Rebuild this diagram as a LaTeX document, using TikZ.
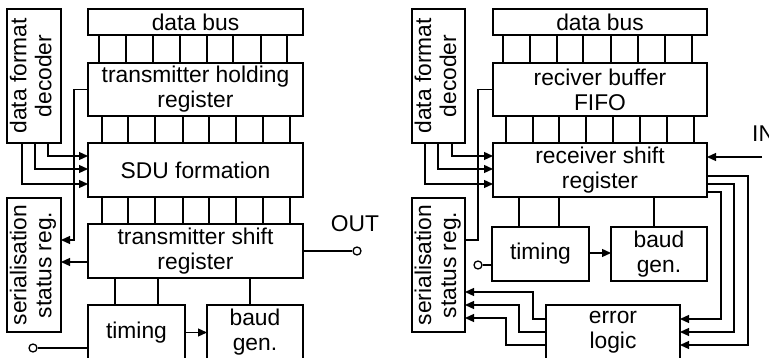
\documentclass[tikz,border=0pt]{standalone}
\usepackage{fontspec}
\setmainfont{Liberation Sans}
\usetikzlibrary{arrows.meta,calc}
\newcommand\vtext[1]{\rotatebox{90}{\begin{tabular}{@{}c@{}}#1\end{tabular}}}
\begin{document}
\begin{tikzpicture}[x=1pt,y=-1pt,
  blk/.style={draw, line width=1.3pt, inner sep=0pt, outer sep=0pt, align=center, font=\fontsize{22.8}{25}\selectfont},
  wire/.style={line width=1.3pt},
  arr/.style={wire, -{Triangle[length=9pt,width=8pt]}},
  term/.style={circle, draw, line width=1.3pt, minimum size=8pt, inner sep=0pt, fill=white},
  lbl/.style={inner sep=0pt, font=\fontsize{22.8}{25}\selectfont}]
\useasboundingbox (0,0) rectangle (769,358);
\clip (0,0) rectangle (769,358);
\fill[white] (0,0) rectangle (769,358);

% ---------- left: transmitter ----------
\node[blk, minimum width=54pt, minimum height=134pt] (ldec) at (34,76) {\vtext{data format\\decoder}};
\node[blk, minimum width=215pt, minimum height=26pt] (lbus) at (195.5,22) {data bus};
\node[blk, minimum width=215pt, minimum height=53pt] (lthr) at (195.5,89.5) {transmitter holding\\register};
\node[blk, minimum width=215pt, minimum height=54pt] (lsdu) at (195.5,170) {SDU formation};
\node[blk, minimum width=215pt, minimum height=54pt] (ltsr) at (195.5,251) {transmitter shift\\register};
\node[blk, minimum width=54pt, minimum height=134pt] (lser) at (34,265) {\vtext{serialisation\\status reg.}};
\node[blk, minimum width=97pt, minimum height=55pt] (ltim) at (136.5,332.5) {timing};
\node[blk, minimum width=96pt, minimum height=55pt] (lbaud) at (255,332.5) {baud\\gen.};
\node[term] (lout) at (357,251) {};
\node[lbl] (louttext) at (355,224) {OUT};
\node[term] (lin) at (33,348) {};

\foreach \x in {99,126,153,180,207,233,261,287}
  \draw[wire] (\x,0 |- lbus.south) -- (\x,0 |- lthr.north);
\foreach \x in {102,128,155,183,209,236,263,290}
  \draw[wire] (\x,0 |- lthr.south) -- (\x,0 |- lsdu.north);
\foreach \x in {102,128,155,183,209,236,263,290}
  \draw[wire] (\x,0 |- lsdu.south) -- (\x,0 |- ltsr.north);

\draw[arr] (48,0 |- ldec.south) |- (lsdu.west |- 0,156);
\draw[arr] (35,0 |- ldec.south) |- (lsdu.west |- 0,169);
\draw[arr] (22,0 |- ldec.south) |- (lsdu.west |- 0,184);
\draw[arr] (lthr.west) -| (74,240) -- (lser.east |- 0,240);
\draw[arr] (ltsr.west |- 0,262) -- (lser.east |- 0,262);
\draw[wire] (ltsr.east) -- (lout.west);
\draw[wire] (115,0 |- ltsr.south) -- (115,0 |- ltim.north);
\draw[wire] (158,0 |- ltsr.south) -- (158,0 |- ltim.north);
\draw[wire] (250,0 |- ltsr.south) -- (250,0 |- lbaud.north);
\draw[arr] (ltim.east) -- (lbaud.west);
\draw[wire] (lin.east) -- (ltim.west |- lin.east);

% ---------- right: receiver ----------
\node[blk, minimum width=53pt, minimum height=134pt] (rdec) at (438.5,76) {\vtext{data format\\decoder}};
\node[blk, minimum width=214pt, minimum height=26pt] (rbus) at (600,22) {data bus};
\node[blk, minimum width=214pt, minimum height=53pt] (rfifo) at (600,89.5) {reciver buffer\\FIFO};
\node[blk, minimum width=214pt, minimum height=54pt] (rrsr) at (600,170) {receiver shift\\register};
\node[blk, minimum width=53pt, minimum height=134pt] (rser) at (438.5,265) {\vtext{serialisation\\status reg.}};
\node[blk, minimum width=97pt, minimum height=54pt] (rtim) at (540.5,254) {timing};
\node[blk, minimum width=96pt, minimum height=54pt] (rbaud) at (659,254) {baud\\gen.};
\node[blk, minimum width=134pt, minimum height=55pt] (rerr) at (613,332.5) {error\\logic};
\node[term] (rin) at (478,265) {};
\node[lbl, anchor=west] (rintext) at (752,134) {IN};
\coordinate (rinsrc) at (762,157);

\foreach \x in {503,530,557,583,611,638,665,692}
  \draw[wire] (\x,0 |- rbus.south) -- (\x,0 |- rfifo.north);
\foreach \x in {506,533,559,586,613,640,667,694}
  \draw[wire] (\x,0 |- rfifo.south) -- (\x,0 |- rrsr.north);

\draw[arr] (452,0 |- rdec.south) |- (rrsr.west |- 0,156);
\draw[arr] (438,0 |- rdec.south) |- (rrsr.west |- 0,169);
\draw[arr] (425,0 |- rdec.south) |- (rrsr.west |- 0,184);
\draw[wire] (rfifo.west) -| (478,240) -- (rser.east |- 0,240);
\draw[arr] (rinsrc) -- (rrsr.east |- rinsrc);
\draw[wire] (519,0 |- rrsr.south) -- (519,0 |- rtim.north);
\draw[wire] (559,0 |- rrsr.south) -- (559,0 |- rtim.north);
\draw[wire] (654,0 |- rrsr.south) -- (654,0 |- rbaud.north);
\draw[arr] (rtim.east |- 0,253) -- (rbaud.west |- 0,253);
\draw[wire] (rin.east) -- (rtim.west |- rin.east);

\draw[arr] (rrsr.east |- 0,176) -| (748,345) -- (rerr.east |- 0,345);
\draw[arr] (rrsr.east |- 0,184) -| (734,332) -- (rerr.east |- 0,332);
\draw[arr] (rrsr.east |- 0,192) -| (721,319) -- (rerr.east |- 0,319);
\draw[arr] (rerr.west |- 0,319) -| (533,292) -- (rser.east |- 0,292);
\draw[arr] (rerr.west |- 0,332) -| (519,305) -- (rser.east |- 0,305);
\draw[arr] (rerr.west |- 0,345) -| (506,318) -- (rser.east |- 0,318);
\end{tikzpicture}
\end{document}
